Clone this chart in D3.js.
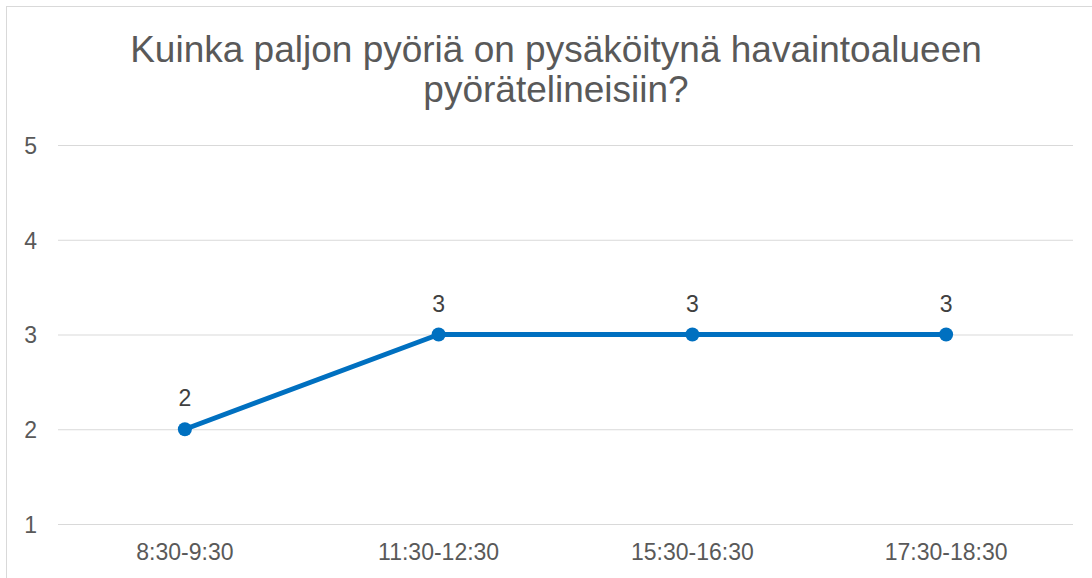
<!DOCTYPE html>
<html>
<head>
<meta charset="utf-8">
<script src="https://cdn.jsdelivr.net/npm/d3@7"></script>
<style>
  body { margin: 0; background: #fff; }
  svg { display: block; font-family: Arial, "Liberation Sans", sans-serif; }
</style>
</head>
<body>
<div id="chart"></div>
<script>
const width = 1092, height = 578;

// data
const titleLines = ['Kuinka paljon pyöriä on pysäköitynä havaintoalueen', 'pyörätelineisiin?'];
const categories = ['8:30-9:30', '11:30-12:30', '15:30-16:30', '17:30-18:30'];
const values = [2, 3, 3, 3];
const yTicks = [1, 2, 3, 4, 5];

const margin = { top: 145, right: 19, bottom: 54, left: 58 };

let svg = d3.select('#chart').append('svg')
            .attr('width', width)
            .attr('height', height);

// chart border (runs off the right / bottom edge like the screenshot)
svg.append('rect')
   .attr('x', 6.5)
   .attr('y', 6.5)
   .attr('width', 1200)
   .attr('height', 700)
   .attr('fill', '#fff')
   .attr('stroke', '#d9d9d9')
   .attr('stroke-width', 1);

const x = d3.scaleBand()
            .domain(categories)
            .range([margin.left, width - margin.right])
            .padding(0);
const y = d3.scaleLinear()
            .domain([1, 5])
            .range([height - margin.bottom, margin.top]);

// title
svg.append('text')
   .attr('x', 556)
   .attr('y', 62)
   .attr('text-anchor', 'middle')
   .attr('font-size', 37)
   .attr('fill', '#595959')
   .selectAll('tspan')
   .data(titleLines)
   .join('tspan')
     .attr('x', 556)
     .attr('dy', (d, i) => i === 0 ? 0 : 40)
     .text(d => d);

// gridlines + y labels
const yAxis = d3.axisLeft(y)
                .tickValues(yTicks)
                .tickSize(-(width - margin.left - margin.right))
                .tickPadding(21)
                .tickFormat(d3.format('d'));
let gy = svg.append('g')
            .attr('transform', `translate(${margin.left},0)`)
            .call(yAxis);
gy.select('.domain').remove();
gy.selectAll('.tick line')
  .attr('stroke', '#d9d9d9')
  .attr('stroke-width', 1);
gy.selectAll('.tick text')
  .attr('font-size', 23)
  .attr('font-family', 'Arial, "Liberation Sans", sans-serif')
  .attr('fill', '#595959')
  .attr('dy', '0.36em');

// x labels
const xAxis = d3.axisBottom(x).tickSize(0).tickPadding(0);
let gx = svg.append('g')
            .attr('transform', `translate(0,${height - margin.bottom})`)
            .call(xAxis);
gx.select('.domain').remove();
gx.selectAll('.tick text')
  .attr('font-size', 23)
  .attr('font-family', 'Arial, "Liberation Sans", sans-serif')
  .attr('fill', '#595959')
  .attr('dy', 0)
  .attr('y', 36);

// line
const cx = d => x(d) + x.bandwidth() / 2;
const line = d3.line()
               .x((d, i) => cx(categories[i]))
               .y(d => y(d));
svg.append('path')
   .datum(values)
   .attr('d', line)
   .attr('fill', 'none')
   .attr('stroke', '#0070c0')
   .attr('stroke-width', 5)
   .attr('stroke-linejoin', 'round');

svg.selectAll('.pt')
   .data(values)
   .join('circle')
     .attr('class', 'pt')
     .attr('cx', (d, i) => cx(categories[i]))
     .attr('cy', d => y(d))
     .attr('r', 7)
     .attr('fill', '#0070c0');

svg.selectAll('.lbl')
   .data(values)
   .join('text')
     .attr('class', 'lbl')
     .attr('x', (d, i) => cx(categories[i]))
     .attr('y', d => y(d) - 23)
     .attr('text-anchor', 'middle')
     .attr('font-size', 23)
     .attr('fill', '#404040')
     .text(d => d);
</script>
</body>
</html>
